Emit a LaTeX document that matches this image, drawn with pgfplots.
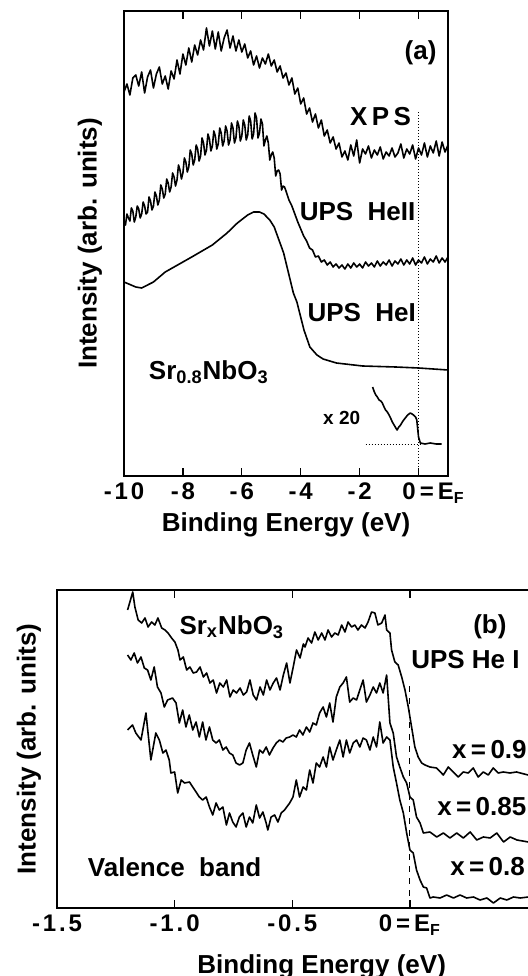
\documentclass[border=0pt]{standalone}
\usepackage{fontspec}
\setmainfont{Liberation Sans}
\newfontfamily\spaced[LetterSpace=12]{Liberation Sans}
\usepackage{pgfplots}
\pgfplotsset{compat=1.18}

\pgfplotsset{
  spec/.style={
    scale only axis, anchor=south west,
    axis line style={line width=0.6pt},
    every tick/.style={black, line width=0.6pt},
    major tick length=4pt,
    ytick=\empty,
    tick label style={font=\spaced\bfseries\fontsize{12}{12}\selectfont},
    label style={font=\bfseries\fontsize{13}{13}\selectfont},
    cycle list={black, no markers, line width=0.8pt, line join=round\\},
  },
}
\tikzset{lbl/.style={font=\bfseries\fontsize{13}{13}\selectfont, inner sep=0pt}}

\begin{document}
\begin{tikzpicture}
\useasboundingbox (0,0) rectangle (264pt,488pt);
\clip (0,0) rectangle (264pt,488pt);

% ---- panel (a)
\begin{axis}[spec,
  at={(62pt,250pt)}, width=162pt, height=232.5pt,
  xmin=-10, xmax=1, ymin=0, ymax=465,
  xtick={-10,-8,-6,-4,-2,0},
  xticklabels={-10,-8,-6,-4,-2,{\hspace*{15pt}0\,=\,E\textsubscript{F}}},
  xlabel={Binding Energy (eV)},
  ylabel={Intensity (arb. units)},
  xlabel style={at={(axis description cs:0.5,-0.1204)}, anchor=base},
  ylabel style={at={(axis description cs:-0.105,0.5)}, anchor=center},
]
% XPS
\addplot coordinates {
(-10.0,384) (-9.9,392) (-9.8,381) (-9.7,398) (-9.6,401) (-9.5,390) (-9.4,404) (-9.3,383) (-9.2,399) (-9.1,406)
(-9.0,388) (-8.9,402) (-8.8,409) (-8.7,392) (-8.6,400) (-8.5,387) (-8.4,405) (-8.3,397) (-8.2,416) (-8.1,402)
(-8.0,422) (-7.9,411) (-7.8,428) (-7.7,414) (-7.6,431) (-7.5,421) (-7.4,436) (-7.3,426) (-7.2,448) (-7.1,430)
(-7.0,445) (-6.9,427) (-6.8,444) (-6.7,425) (-6.6,438) (-6.5,446) (-6.4,428) (-6.3,440) (-6.2,425) (-6.1,436)
(-6.0,424) (-5.9,432) (-5.8,418) (-5.7,425) (-5.6,411) (-5.5,420) (-5.4,408) (-5.3,418) (-5.2,412) (-5.1,422)
(-5.0,410) (-4.9,416) (-4.8,404) (-4.7,410) (-4.6,398) (-4.5,403) (-4.4,391) (-4.3,398) (-4.2,382) (-4.1,388)
(-4.0,372) (-3.9,378) (-3.8,362) (-3.7,368) (-3.6,354) (-3.5,362) (-3.4,348) (-3.3,356) (-3.2,340) (-3.1,346)
(-3.0,333) (-2.9,339) (-2.8,327) (-2.7,333) (-2.6,319) (-2.5,325) (-2.4,316) (-2.3,331) (-2.2,320) (-2.1,336)
(-2.0,313) (-1.9,327) (-1.8,322) (-1.7,330) (-1.6,318) (-1.5,326) (-1.4,321) (-1.3,329) (-1.2,317) (-1.1,324)
(-1.0,320) (-0.9,328) (-0.8,319) (-0.7,323) (-0.6,332) (-0.5,318) (-0.4,327) (-0.3,322) (-0.2,331) (-0.1,317)
(0.0,328) (0.1,321) (0.2,333) (0.3,319) (0.4,330) (0.5,323) (0.6,335) (0.7,320) (0.8,334) (0.9,324) (1.0,331)
};
% UPS HeII
\addplot coordinates {
(-10.0,256) (-9.95,251) (-9.9,262) (-9.85,258) (-9.8,255) (-9.75,268) (-9.7,265) (-9.65,254) (-9.6,259) (-9.55,270)
(-9.5,267) (-9.45,258) (-9.4,262) (-9.35,274) (-9.3,270) (-9.25,262) (-9.2,264) (-9.15,279) (-9.1,275) (-9.05,266)
(-9.0,270) (-8.95,284) (-8.9,280) (-8.85,271) (-8.8,276) (-8.75,291) (-8.7,287) (-8.65,278) (-8.6,282) (-8.55,297)
(-8.5,293) (-8.45,284) (-8.4,289) (-8.35,303) (-8.3,299) (-8.25,290) (-8.2,296) (-8.15,311) (-8.1,306) (-8.05,297)
(-8.0,303) (-7.95,318) (-7.9,314) (-7.85,304) (-7.8,309) (-7.75,326) (-7.7,322) (-7.65,311) (-7.6,316) (-7.55,331)
(-7.5,327) (-7.45,315) (-7.4,320) (-7.35,338) (-7.3,333) (-7.25,321) (-7.2,326) (-7.15,342) (-7.1,337) (-7.05,325)
(-7.0,330) (-6.95,345) (-6.9,340) (-6.85,327) (-6.8,332) (-6.75,348) (-6.7,343) (-6.65,330) (-6.6,335) (-6.55,350)
(-6.5,345) (-6.45,331) (-6.4,336) (-6.35,353) (-6.3,348) (-6.25,333) (-6.2,338) (-6.15,355) (-6.1,350) (-6.05,335)
(-6.0,340) (-5.95,356) (-5.9,351) (-5.85,336) (-5.8,341) (-5.75,360) (-5.7,355) (-5.65,337) (-5.6,342) (-5.55,363)
(-5.5,358) (-5.45,338) (-5.4,343) (-5.35,357) (-5.3,352) (-5.25,330) (-5.2,336) (-5.15,340) (-5.1,333) (-5.05,316)
(-5.0,321) (-4.95,324) (-4.9,318) (-4.85,300) (-4.8,305) (-4.75,306) (-4.7,302) (-4.65,286) (-4.6,290) (-4.55,289)
(-4.5,285) (-4.4,276) (-4.3,270) (-4.2,262) (-4.1,254)
(-4.0,247) (-3.9,240) (-3.8,235) (-3.7,228) (-3.6,226) (-3.5,219) (-3.4,220) (-3.3,214) (-3.2,216) (-3.1,211)
(-3.0,214) (-2.9,209) (-2.8,212) (-2.7,208) (-2.6,211) (-2.5,207) (-2.4,212) (-2.3,208) (-2.2,213) (-2.1,209)
(-2.0,212) (-1.9,208) (-1.8,214) (-1.7,210) (-1.6,213) (-1.5,209) (-1.4,215) (-1.3,210) (-1.2,214) (-1.1,211)
(-1.0,216) (-0.9,210) (-0.8,215) (-0.7,212) (-0.6,217) (-0.5,211) (-0.4,216) (-0.3,212) (-0.2,218) (-0.1,211)
(0.0,216) (0.1,213) (0.2,219) (0.3,212) (0.4,217) (0.5,214) (0.6,220) (0.7,213) (0.8,218) (0.9,214) (1.0,219)
};
% UPS HeI
\addplot coordinates {
(-10.0,194) (-9.6,189) (-9.4,188) (-9.0,194) (-8.6,204) (-8.0,214) (-7.7,219) (-7.0,231) (-6.5,243)
(-6.15,253) (-5.8,261) (-5.6,264) (-5.4,264) (-5.25,262) (-5.05,256) (-4.9,249) (-4.58,223) (-4.25,183) (-4.13,174) (-3.89,146)
(-3.69,129) (-3.45,121) (-3.24,117) (-2.79,113) (-1.9,110) (-0.78,109) (0.0,108) (1.0,106)
};
% x 20 inset
\addplot coordinates {
(-1.56,89) (-1.50,84) (-1.45,81) (-1.40,79) (-1.34,76) (-1.28,75) (-1.23,73) (-1.17,69) (-1.12,66) (-1.06,64)
(-1.00,61) (-0.95,58) (-0.89,54) (-0.81,50) (-0.73,46) (-0.67,49) (-0.61,51) (-0.53,55) (-0.45,58) (-0.37,61)
(-0.28,63) (-0.22,62) (-0.17,61) (-0.10,59) (-0.06,56) (0.0,39) (0.06,33) (0.22,32) (0.40,33) (0.60,32) (0.78,32)
};
\addplot[densely dotted, line width=0.5pt] coordinates {(-1.8,31) (0.05,31)};
\addplot[densely dotted, line width=0.5pt] coordinates {(0,0) (0,366)};
\node[lbl] at (axis cs:0.07,423) {(a)};
\node[lbl] at (axis cs:-1.29,359) {X\,P\,S};
\node[lbl] at (axis cs:-2.07,264) {UPS\ \ HeII};
\node[lbl] at (axis cs:-1.93,163) {UPS\ \ HeI};
\node[lbl] at (axis cs:-7.12,104) {Sr\textsubscript{0.8}NbO\textsubscript{3}};
\node[lbl, font=\bfseries\fontsize{9.5}{9.5}\selectfont] at (axis cs:-2.61,58) {x 20};
\end{axis}

% ---- panel (b)
\begin{axis}[spec,
  at={(28.5pt,34pt)}, width=264.7pt, height=159pt,
  xmin=-1.5, xmax=0.75, ymin=0, ymax=318,
  xtick={-1.5,-1,-0.5,0},
  xticklabels={-1.5,-1.0,-0.5,{0\,=\,E\textsubscript{F}}},
  xlabel={Binding Energy (eV)},
  ylabel={Intensity (arb. units)},
  xlabel style={at={(axis description cs:0.5,-0.2044)}, anchor=base},
  ylabel style={at={(axis description cs:-0.0529,0.5)}, anchor=center},
]
% x = 0.9
\addplot coordinates {
(-1.200,298) (-1.178,316) (-1.169,301) (-1.155,288) (-1.140,285) (-1.126,290) (-1.113,281) (-1.098,286)
(-1.084,283) (-1.071,290) (-1.055,280) (-1.041,278) (-1.028,275) (-1.013,270) (-0.999,266) (-0.986,258)
(-0.977,248) (-0.963,251) (-0.949,238) (-0.935,241) (-0.921,235) (-0.907,236) (-0.892,241) (-0.878,231)
(-0.864,235) (-0.850,225) (-0.836,228) (-0.822,215) (-0.808,225) (-0.793,221) (-0.779,228) (-0.765,211)
(-0.751,218) (-0.737,215) (-0.722,220) (-0.708,213) (-0.694,216) (-0.680,228) (-0.666,213) (-0.652,208)
(-0.637,221) (-0.623,213) (-0.609,228) (-0.595,218) (-0.581,225) (-0.567,230) (-0.552,218) (-0.538,233)
(-0.524,245) (-0.510,225) (-0.496,241) (-0.482,258) (-0.467,250) (-0.453,264) (-0.446,261) (-0.433,270)
(-0.418,265) (-0.404,276) (-0.390,268) (-0.375,275) (-0.361,268) (-0.348,278) (-0.333,271) (-0.319,275)
(-0.305,273) (-0.290,283) (-0.276,276) (-0.263,286) (-0.248,281) (-0.234,283) (-0.221,278) (-0.206,283)
(-0.191,280) (-0.178,286) (-0.163,296) (-0.149,295) (-0.136,283) (-0.120,285) (-0.106,293) (-0.099,278)
(-0.085,275) (-0.078,258) (-0.064,246) (-0.050,243) (-0.035,231) (-0.021,218) (-0.007,201) (0.007,181)
(0.021,161) (0.035,151) (0.050,145) (0.064,143) (0.085,141) (0.113,140) (0.142,133) (0.163,141) (0.184,136)
(0.205,131) (0.227,136) (0.248,135) (0.269,140) (0.290,131) (0.312,136) (0.333,133) (0.354,140) (0.375,135)
(0.397,136) (0.425,135) (0.453,136) (0.502,133) (0.55,136) (0.60,134) (0.65,137) (0.70,133) (0.75,135)
};
% x = 0.85
\addplot coordinates {
(-1.200,253) (-1.186,248) (-1.172,255) (-1.158,245) (-1.143,251) (-1.129,240) (-1.115,238) (-1.101,228)
(-1.087,241) (-1.073,221) (-1.058,215) (-1.044,201) (-1.030,208) (-1.009,210) (-0.994,205) (-0.980,185)
(-0.966,198) (-0.952,181) (-0.938,193) (-0.923,178) (-0.909,186) (-0.895,171) (-0.881,186) (-0.867,168)
(-0.852,181) (-0.838,168) (-0.824,165) (-0.810,168) (-0.795,158) (-0.781,161) (-0.767,155) (-0.753,153)
(-0.739,145) (-0.724,143) (-0.710,145) (-0.696,158) (-0.682,165) (-0.668,153) (-0.653,141) (-0.639,158)
(-0.625,155) (-0.611,161) (-0.597,153) (-0.582,160) (-0.568,165) (-0.554,168) (-0.540,166) (-0.526,170)
(-0.511,171) (-0.497,173) (-0.483,171) (-0.469,178) (-0.455,173) (-0.440,181) (-0.426,176) (-0.412,185)
(-0.398,183) (-0.384,195) (-0.369,201) (-0.355,191) (-0.341,205) (-0.327,186) (-0.313,211) (-0.298,221)
(-0.284,225) (-0.270,231) (-0.256,206) (-0.241,210) (-0.227,208) (-0.213,218) (-0.199,228) (-0.185,206)
(-0.170,213) (-0.156,221) (-0.142,215) (-0.128,225) (-0.114,215) (-0.099,233) (-0.085,185) (-0.071,175)
(-0.057,151) (-0.043,141) (-0.028,131) (-0.014,125) (0.000,111) (0.014,108) (0.028,91) (0.043,85)
(0.057,75) (0.085,76) (0.114,71) (0.142,75) (0.170,70) (0.199,75) (0.227,70) (0.256,76) (0.284,68)
(0.312,71) (0.341,70) (0.369,75) (0.398,66) (0.426,71) (0.455,68) (0.503,66) (0.55,70) (0.60,67) (0.65,71)
(0.70,68) (0.75,70)
};
% x = 0.8
\addplot coordinates {
(-1.200,178) (-1.179,183) (-1.165,175) (-1.143,168) (-1.122,195) (-1.101,148) (-1.080,175) (-1.065,168)
(-1.050,155) (-1.037,158) (-1.023,148) (-1.016,135) (-1.000,136) (-0.987,115) (-0.972,128) (-0.958,125)
(-0.937,126) (-0.923,121) (-0.909,116) (-0.895,111) (-0.881,108) (-0.866,111) (-0.852,101) (-0.838,93)
(-0.824,105) (-0.810,98) (-0.795,101) (-0.780,83) (-0.767,95) (-0.753,86) (-0.739,81) (-0.725,91)
(-0.710,95) (-0.696,81) (-0.682,91) (-0.668,85) (-0.653,103) (-0.639,90) (-0.625,96) (-0.611,85)
(-0.604,78) (-0.590,91) (-0.575,93) (-0.561,86) (-0.547,95) (-0.533,98) (-0.511,105) (-0.497,111)
(-0.483,128) (-0.469,111) (-0.454,121) (-0.440,118) (-0.426,138) (-0.412,125) (-0.398,145) (-0.384,141)
(-0.369,151) (-0.355,141) (-0.341,161) (-0.327,148) (-0.313,158) (-0.298,168) (-0.284,151) (-0.270,168)
(-0.256,155) (-0.241,165) (-0.227,168) (-0.213,161) (-0.199,170) (-0.185,168) (-0.170,158) (-0.156,171)
(-0.142,161) (-0.128,186) (-0.114,165) (-0.099,171) (-0.085,168) (-0.071,141) (-0.057,125) (-0.043,108)
(-0.028,95) (-0.014,75) (0.000,58) (0.014,55) (0.028,38) (0.043,28) (0.057,21) (0.071,20) (0.085,10)
(0.099,11) (0.128,10) (0.156,13) (0.185,10) (0.213,13) (0.241,10) (0.270,11) (0.298,8) (0.327,10)
(0.355,5) (0.384,10) (0.412,8) (0.440,11) (0.469,10) (0.503,11) (0.55,9) (0.60,11) (0.65,8) (0.70,10) (0.75,9)
};
\addplot[dashed, line width=0.5pt] coordinates {(0,0) (0,226)};
\node[lbl] at (axis cs:-0.757,281) {Sr\textsubscript{x}NbO\textsubscript{3}};
\node[lbl] at (axis cs:0.34,281) {(b)};
\node[lbl, anchor=west] at (axis cs:0.004,248) {UPS He I};
\node[lbl, anchor=west] at (axis cs:0.178,158) {x\,=\,0.9};
\node[lbl, anchor=west] at (axis cs:0.115,101) {x\,=\,0.85};
\node[lbl, anchor=west] at (axis cs:0.17,41) {x\,=\,0.8};
\node[lbl] at (axis cs:-1.0,41) {Valence\ \ band};
\end{axis}
\end{tikzpicture}
\end{document}
